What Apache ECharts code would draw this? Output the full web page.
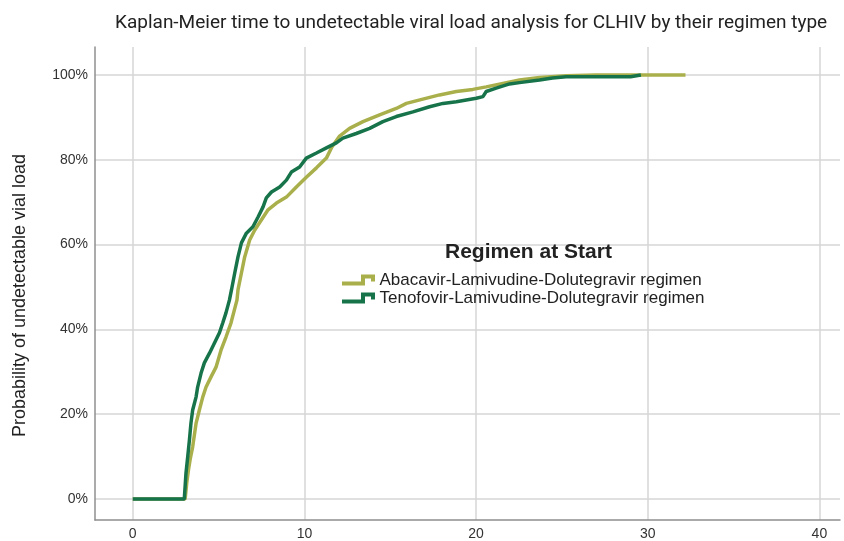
<!DOCTYPE html>
<html>
<head>
<meta charset="utf-8">
<script src="https://cdn.jsdelivr.net/npm/echarts@6/dist/echarts.min.js"></script>
<style>
    html, body { margin: 0; padding: 0; background: #fff; }
    #chart { width: 844px; height: 541px; }
</style>
</head>
<body>
<div id="chart"></div>
<script>
// time (months) and cumulative probability (%)
const abcTime = [0, 3.05, 3.15, 3.25, 3.35, 3.49, 3.69, 3.88, 4.08, 4.27, 4.56, 4.85, 5.14, 5.43, 5.72, 5.92, 6.07, 6.13, 6.33, 6.52, 6.81, 7.1, 7.49, 7.88, 8.37, 8.95, 9.53, 10.11, 10.7, 11.28, 11.6, 12.05, 12.63, 13.41, 14.38, 15.35, 15.94, 16.9, 17.87, 18.85, 19.81, 20.59, 21.56, 22.53, 23.7, 25.25, 27.0, 32.2];
const abcProb = [0, 0, 4, 7, 9.5, 12.3, 17.9, 21.0, 24.1, 26.4, 28.8, 31.1, 35.1, 38.2, 41.5, 44.6, 46.9, 49.3, 53.3, 57.1, 61.1, 63.4, 65.8, 68.2, 69.8, 71.2, 73.6, 75.9, 78.1, 80.4, 83.0, 85.6, 87.4, 89.0, 90.6, 92.1, 93.3, 94.3, 95.3, 96.1, 96.6, 97.2, 98.0, 98.8, 99.4, 99.8, 100, 100];

const tdfTime = [0, 3.0, 3.05, 3.1, 3.2, 3.3, 3.39, 3.49, 3.69, 3.78, 3.98, 4.17, 4.47, 4.76, 5.05, 5.24, 5.43, 5.63, 5.75, 5.94, 6.13, 6.33, 6.62, 7.0, 7.3, 7.59, 7.78, 8.08, 8.56, 8.95, 9.24, 9.72, 10.11, 10.7, 11.28, 11.86, 12.24, 13.02, 13.8, 14.57, 15.35, 16.32, 17.29, 18.07, 18.85, 20.01, 20.4, 20.59, 21.17, 21.95, 22.53, 23.7, 24.45, 25.25, 29.0, 29.6];
const tdfProb = [0, 0, 3, 6.1, 9.9, 13.9, 17.9, 21.0, 24.1, 26.4, 29.7, 32.1, 34.4, 36.8, 39.2, 41.5, 43.9, 46.9, 49.3, 53.3, 57.1, 60.4, 62.7, 64.2, 66.5, 68.9, 71.0, 72.4, 73.6, 75.2, 77.1, 78.3, 80.4, 81.6, 82.8, 84.0, 85.1, 86.2, 87.4, 89.0, 90.2, 91.3, 92.5, 93.3, 93.7, 94.5, 94.9, 96.1, 96.9, 97.9, 98.2, 98.8, 99.3, 99.6, 99.6, 100];

const seriesNames = ["Abacavir-Lamivudine-Dolutegravir regimen", "Tenofovir-Lamivudine-Dolutegravir regimen"];
const seriesColors = ["#a9b04b", "#17744a"];
const xTicks = [0, 10, 20, 30, 40];
const yTicks = [0, 20, 40, 60, 80, 100];

const toPairs = (xs, ys) => xs.map((x, i) => [x, ys[i]]);

// stair icon for the legend
const stepIcon = "path://M0,7 H19 V0 H33 V7 H29 V4 H23 V11 H0 Z";

const chart = echarts.init(document.getElementById("chart"));

const gridLine = { show: true, lineStyle: { color: "#d6d6d6", width: 1.5 } };
const axisLine = { show: true, onZero: false, lineStyle: { color: "#8f8f8f", width: 1.5 } };
const labelFont = { fontFamily: "Liberation Sans", fontSize: 14, color: "#333" };

const options = {
    animation: false,
    title: [
        {
            text: "Kaplan-Meier time to undetectable viral load analysis for CLHIV by their regimen type",
            left: 110,
            top: 9,
            textStyle: { fontFamily: "Roboto", fontWeight: "normal", fontSize: 19, color: "#222" },
        },
        {
            text: "Regimen at Start",
            left: 440,
            top: 237,
            textStyle: { fontFamily: "Liberation Sans", fontWeight: "bold", fontSize: 21, color: "#222" },
        },
    ],
    legend: {
        orient: "vertical",
        left: 342,
        top: 271,
        padding: 0,
        itemWidth: 34,
        itemHeight: 11,
        itemGap: 0,
        icon: stepIcon,
        data: seriesNames,
        textStyle: { fontFamily: "Liberation Sans", fontSize: 17, lineHeight: 18, color: "#222", padding: [0, 0, 0, -1] },
    },
    grid: { left: 95, right: 4, top: 47, bottom: 21 },
    xAxis: {
        type: "value",
        min: -2.2,
        max: 41.2,
        axisLine: axisLine,
        axisTick: { show: false, customValues: xTicks },
        axisLabel: { ...labelFont, margin: 7, customValues: xTicks },
        splitLine: gridLine,
    },
    yAxis: {
        type: "value",
        min: -4.95,
        max: 106.6,
        name: "Probability of undetectable vial load",
        nameLocation: "middle",
        nameGap: 66,
        nameTextStyle: { fontFamily: "Liberation Sans", fontSize: 18, color: "#222", padding: [0, 24, 0, 0] },
        axisLine: axisLine,
        axisTick: { show: false, customValues: yTicks },
        axisLabel: { ...labelFont, margin: 7, customValues: yTicks, formatter: (v) => v + "%" },
        splitLine: gridLine,
    },
    series: [
        {
            name: seriesNames[0],
            type: "line",
            showSymbol: false,
            data: toPairs(abcTime, abcProb),
            itemStyle: { color: seriesColors[0] },
            lineStyle: { color: seriesColors[0], width: 3.5 },
        },
        {
            name: seriesNames[1],
            type: "line",
            showSymbol: false,
            data: toPairs(tdfTime, tdfProb),
            itemStyle: { color: seriesColors[1] },
            lineStyle: { color: seriesColors[1], width: 3.5 },
        },
    ],
};

chart.setOption(options);
</script>
</body>
</html>
